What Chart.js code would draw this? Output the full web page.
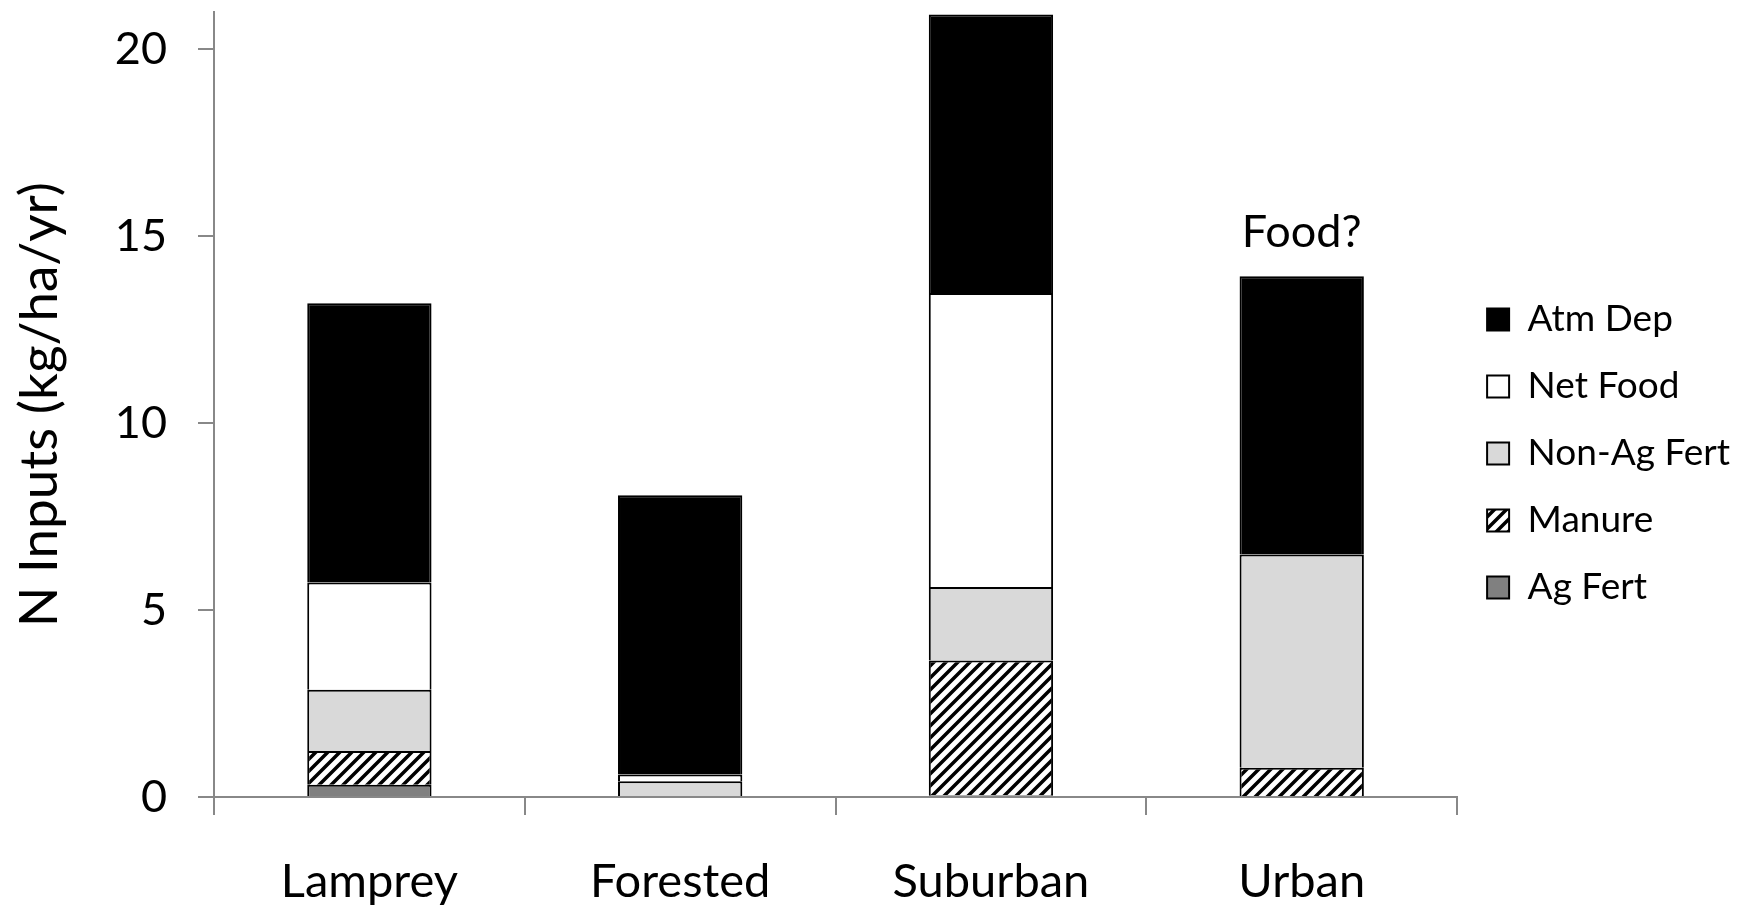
<!DOCTYPE html>
<html lang="en">
<head>
    <meta charset="UTF-8">
    <title>N Inputs by Watershed</title>
    <script src="https://cdn.jsdelivr.net/npm/chart.js"></script>
    <style>
        body {
            margin: 0;
            background-color: white;
        }
        #wrap {
            width: 1750px;
            height: 907px;
        }
    </style>
</head>
<body>
    <div id="wrap"><canvas id="inputsChart"></canvas></div>

    <script>
        // values (kg/ha/yr)
        const categories = ['Lamprey', 'Forested', 'Suburban', 'Urban'];
        const agFert = [0.33, 0, 0.05, 0];
        const manure = [0.9, 0, 3.6, 0.78];
        const nonAgFert = [1.64, 0.42, 1.97, 5.71];
        const netFood = [2.87, 0.18, 7.86, 0];
        const atmDep = [7.47, 7.47, 7.45, 7.44];
        const yTicks = [0, 5, 10, 15, 20];
        const yMax = 21;
        const noteText = 'Food?';
        const noteCategory = 'Urban';
        const noteValue = 15.1;

        // diagonal hatch for manure
        function makeHatch() {
            const c = document.createElement('canvas');
            c.width = 12;
            c.height = 12;
            const g = c.getContext('2d');
            g.fillStyle = 'white';
            g.fillRect(0, 0, 12, 12);
            g.strokeStyle = 'black';
            g.lineWidth = 3.5;
            g.beginPath();
            g.moveTo(-2, 14); g.lineTo(14, -2);
            g.moveTo(-2, 2); g.lineTo(2, -2);
            g.moveTo(10, 14); g.lineTo(14, 10);
            g.stroke();
            return g.createPattern(c, 'repeat');
        }
        const hatch = makeHatch();

        // "Food?" note above the urban bar
        const notePlugin = {
            id: 'note',
            afterDatasetsDraw(chart) {
                const ctx = chart.ctx;
                const x = chart.scales.x.getPixelForValue(categories.indexOf(noteCategory));
                const y = chart.scales.y.getPixelForValue(noteValue);
                ctx.save();
                ctx.font = '45px Lato';
                ctx.fillStyle = '#000';
                ctx.textAlign = 'center';
                ctx.textBaseline = 'middle';
                ctx.fillText(noteText, x, y);
                ctx.restore();
            }
        };

        // nudge the legend up a little
        const legendShift = {
            id: 'legendShift',
            afterLayout(chart) {
                chart.legend.top -= 6;
                chart.legend.bottom -= 6;
            }
        };

        function ds(label, data, fill) {
            return {
                label: label,
                data: data,
                backgroundColor: fill,
                borderColor: '#000',
                borderWidth: 2,
                categoryPercentage: 1.0,
                barPercentage: 0.4
            };
        }

        const chart = new Chart(document.getElementById('inputsChart').getContext('2d'), {
            type: 'bar',
            data: {
                labels: categories,
                datasets: [
                    ds('Ag Fert', agFert, '#808080'),
                    ds('Manure', manure, hatch),
                    ds('Non-Ag Fert', nonAgFert, '#d9d9d9'),
                    ds('Net Food', netFood, '#ffffff'),
                    ds('Atm Dep', atmDep, '#000000')
                ]
            },
            options: {
                responsive: true,
                maintainAspectRatio: false,
                animation: false,
                layout: { padding: { top: 12, left: 0, right: 10, bottom: 0 } },
                plugins: {
                    tooltip: { enabled: false },
                    legend: {
                        position: 'right',
                        reverse: true,
                        labels: {
                            font: { family: 'Lato', size: 37 },
                            color: '#000',
                            boxWidth: 22,
                            boxHeight: 22,
                            padding: 30
                        }
                    }
                },
                scales: {
                    x: {
                        stacked: true,
                        offset: true,
                        grid: {
                            offset: true,
                            drawOnChartArea: false,
                            tickLength: 18,
                            color: '#888',
                            lineWidth: 2
                        },
                        border: { color: '#888', width: 2 },
                        ticks: {
                            font: { family: 'Lato', size: 47 },
                            color: '#000',
                            padding: 39
                        },
                        afterFit(scale) {
                            scale.height = 110;
                            scale.paddingLeft = 0;
                            scale.paddingRight = 0;
                        }
                    },
                    y: {
                        stacked: true,
                        min: 0,
                        max: yMax,
                        afterBuildTicks(scale) {
                            scale.ticks = yTicks.map(v => ({ value: v }));
                        },
                        grid: {
                            drawOnChartArea: false,
                            tickLength: 16,
                            color: '#888',
                            lineWidth: 2
                        },
                        border: { color: '#888', width: 2 },
                        ticks: {
                            font: { family: 'Lato', size: 45 },
                            color: '#000',
                            padding: 31
                        },
                        title: {
                            display: true,
                            text: 'N Inputs (kg/ha/yr)',
                            font: { family: 'Lato', size: 53 },
                            color: '#000',
                            padding: { top: 8, bottom: 0 }
                        },
                        afterFit(scale) {
                            scale.width = 214;
                            scale.paddingTop = 0;
                            scale.paddingBottom = 0;
                        }
                    }
                }
            },
            plugins: [notePlugin, legendShift]
        });
    </script>
</body>
</html>
